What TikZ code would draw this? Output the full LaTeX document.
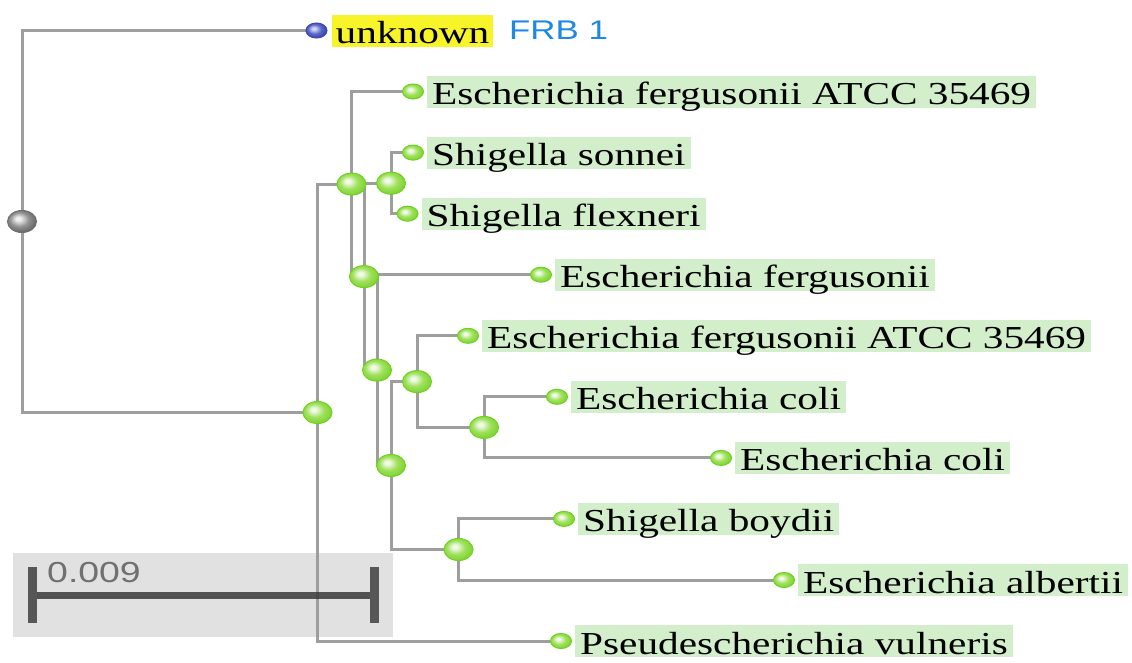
\documentclass[tikz,border=0pt]{standalone}
\usepackage{fontspec}
\setmainfont{Liberation Serif}
\newfontfamily\labfont[FakeStretch=1.29]{Liberation Serif}
\newfontfamily\frbfont[FakeStretch=1.29]{Liberation Sans}
\usetikzlibrary{shapes.geometric}
\definecolor{gHi}{HTML}{F0FAE6}
\definecolor{gMid}{HTML}{9EE05A}
\definecolor{gDark}{HTML}{7AD02E}
\definecolor{gEdge}{HTML}{6DD21E}
\definecolor{bHi}{HTML}{D0D4F4}
\definecolor{bMid}{HTML}{5A66C8}
\definecolor{bDark}{HTML}{3440A0}
\definecolor{bEdge}{HTML}{3A48B0}
\definecolor{kHi}{HTML}{F0F0F0}
\definecolor{kMid}{HTML}{929292}
\definecolor{kDark}{HTML}{5E5E5E}
\definecolor{kEdge}{HTML}{6E6E6E}
\definecolor{branch}{HTML}{9E9E9E}
\definecolor{labgreen}{HTML}{D3EECB}
\definecolor{labyellow}{HTML}{F7F52A}
\definecolor{frbblue}{HTML}{1E88E5}
\definecolor{scalebg}{HTML}{E0E1E0}
\definecolor{scalebar}{HTML}{3A3A3A}
\definecolor{scaletxt}{HTML}{707070}
\pgfdeclareradialshading{greenball}{\pgfpoint{-7bp}{7bp}}{color(0bp)=(gHi); color(4bp)=(gHi); color(16bp)=(gMid); color(30bp)=(gDark); color(50bp)=(gDark)}
\pgfdeclareradialshading{blueball}{\pgfpoint{-7bp}{7bp}}{color(0bp)=(bHi); color(4bp)=(bHi); color(16bp)=(bMid); color(30bp)=(bDark); color(50bp)=(bDark)}
\pgfdeclareradialshading{grayball}{\pgfpoint{-7bp}{7bp}}{color(0bp)=(kHi); color(4bp)=(kHi); color(16bp)=(kMid); color(30bp)=(kDark); color(50bp)=(kDark)}
\pgfdeclarelayer{background}
\pgfsetlayers{background,main}
\tikzset{
  inode/.style={ellipse, minimum width=29pt, minimum height=22pt, inner sep=0pt, shading=greenball, draw=gEdge, line width=1pt},
  leafnode/.style={ellipse, minimum width=21pt, minimum height=15pt, inner sep=0pt, shading=greenball, draw=gEdge, line width=1pt},
  unkleaf/.style={leafnode, shading=blueball, draw=bEdge},
  rootnode/.style={inode, shading=grayball, draw=kEdge},
  lab/.style={fill=labgreen, inner xsep=5pt, inner ysep=0pt, text height=29pt, text depth=3pt, anchor=west, font=\labfont\fontsize{32pt}{38pt}\selectfont},
  ylab/.style={lab, fill=labyellow, inner xsep=4pt},
  br/.style={draw=branch, line width=3pt},
}
\begin{document}
\begin{tikzpicture}[x=1pt,y=-1pt]
\useasboundingbox (0,0) rectangle (1132,662);
% internal nodes
\node[rootnode] (root) at (22,221.5) {};
\node[inode] (A) at (317.5,412.5) {};
\node[inode] (B) at (351.5,184.1) {};
\node[inode] (S) at (391,183.2) {};
\node[inode] (C) at (364,276.6) {};
\node[inode] (D) at (377,370.1) {};
\node[inode] (E) at (391,465.5) {};
\node[inode] (F) at (417,381.6) {};
\node[inode] (G) at (484,427.4) {};
\node[inode] (H) at (458.5,549.5) {};
% leaves
\node[unkleaf] (n0) at (316.5,30.5) {};
\node[leafnode] (n1) at (413,91.5) {};
\node[leafnode] (n2) at (413,152.6) {};
\node[leafnode] (n3) at (407.5,213.7) {};
\node[leafnode] (n4) at (541,274.7) {};
\node[leafnode] (n5) at (468,335.8) {};
\node[leafnode] (n6) at (557,396.8) {};
\node[leafnode] (n7) at (721,457.9) {};
\node[leafnode] (n8) at (564,518.9) {};
\node[leafnode] (n9) at (784,580) {};
\node[leafnode] (n10) at (561,641) {};
% labels
\node[ylab] (t0) at ([xshift=15pt]n0.center) {unknown};
\node[anchor=base west, inner sep=0pt, text=frbblue, font=\frbfont\fontsize{27pt}{32pt}\selectfont] (frb) at (509,39.5) {FRB 1};
\node[lab] (t1) at ([xshift=14pt]n1.center) {Escherichia fergusonii ATCC 35469};
\node[lab] (t2) at ([xshift=14pt]n2.center) {Shigella sonnei};
\node[lab] (t3) at ([xshift=14pt]n3.center) {Shigella flexneri};
\node[lab] (t4) at ([xshift=14pt]n4.center) {Escherichia fergusonii};
\node[lab] (t5) at ([xshift=14pt]n5.center) {Escherichia fergusonii ATCC 35469};
\node[lab] (t6) at ([xshift=14pt]n6.center) {Escherichia coli};
\node[lab] (t7) at ([xshift=14pt]n7.center) {Escherichia coli};
\node[lab] (t8) at ([xshift=14pt]n8.center) {Shigella boydii};
\node[lab] (t9) at ([xshift=14pt]n9.center) {Escherichia albertii};
\node[lab] (t10) at ([xshift=14pt]n10.center) {Pseudescherichia vulneris};
% scale bar
\node[anchor=base west, inner sep=0pt, text=scaletxt, font=\frbfont\fontsize{29pt}{34pt}\selectfont] (sclab) at (47,582) {0.009};
\coordinate (sbl) at (32,595);
\coordinate (sbr) at (374,595);
\draw[scalebar, opacity=0.85, line width=7pt] (sbl) -- (sbr);
\draw[scalebar!85!white, line width=9pt] ([yshift=-28pt]sbl) -- ([yshift=28pt]sbl);
\draw[scalebar!85!white, line width=9pt] ([yshift=-28pt]sbr) -- ([yshift=28pt]sbr);
\begin{pgfonlayer}{background}
\fill[white] (0,0) rectangle (1132,662);
\fill[scalebg] (13,553) rectangle (393,637);
\foreach \p/\c in {root/n0, root/A, A/B, A/n10, B/n1, B/C, C/S, C/D, S/n2, S/n3, D/n4, D/E, E/F, E/H, F/n5, F/G, G/n6, G/n7, H/n8, H/n9} {
  \draw[br] (\p.center) |- (\c.center);
}
\end{pgfonlayer}
\end{tikzpicture}
\end{document}
